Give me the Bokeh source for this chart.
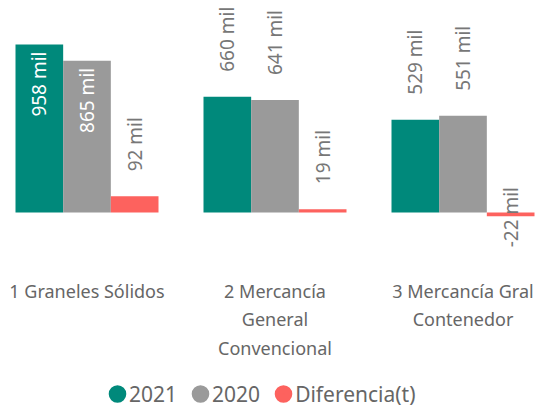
import math
from bokeh.plotting import figure
from bokeh.models import FixedTicker, Legend, LegendItem, ColumnDataSource
from bokeh.core.properties import value
from bokeh.embed import file_html
from bokeh.resources import INLINE

# ---- data ----
categories = ["1 Graneles Sólidos", "2 Mercancía General Convencional", "3 Mercancía Gral Contenedor"]
tick_labels = ["1 Graneles Sólidos", "2 Mercancía\nGeneral\nConvencional", "3 Mercancía Gral\nContenedor"]
series_names = ["2021", "2020", "Diferencia(t)"]
values_2021 = [958, 660, 529]
values_2020 = [865, 641, 551]
values_diff = [92, 19, -22]
colors = ["#00897B", "#9A9A9A", "#FD625E"]

FONT = "Noto Sans"
TEXT_GREY = "#666666"
LABEL_GREY = "#777777"

# ---- layout ----
FRAME_W, FRAME_H = 543, 408
group_px = 188.0
first_center_px = 86.5
baseline_px_from_top = 212.0
axis_px_from_top = 255.0
units_per_px = 958 / 168.0

x0 = -first_center_px / group_px
x1 = x0 + FRAME_W / group_px
y1 = baseline_px_from_top * units_per_px
y0 = -(FRAME_H - baseline_px_from_top) * units_per_px
axis_y = -(axis_px_from_top - baseline_px_from_top) * units_per_px
bw = 143.0 / 3.0 / group_px

p = figure(frame_width=FRAME_W, frame_height=FRAME_H,
           x_range=(x0, x1), y_range=(y0, y1),
           output_backend="svg", toolbar_location=None,
           y_axis_location=None,
           min_border_left=0, min_border_right=0, min_border_top=0, min_border_bottom=0)
p.outline_line_color = None
p.grid.visible = False
p.background_fill_color = "white"
p.border_fill_color = "white"

series = [values_2021, values_2020, values_diff]
idx = list(range(len(categories)))

lx, ly, ltxt, lalign, loff, lcol = [], [], [], [], [], []
legend_items = []
for s, (vals, col, name) in enumerate(zip(series, colors, series_names)):
    xs = [i + (s - 1) * bw for i in idx]
    p.vbar(x=xs, top=vals, bottom=0, width=bw, fill_color=col, line_color=None)
    # legend-only marker renderer (hidden on the plot)
    dummy = p.scatter(x=xs, y=vals, marker="circle", size=18, fill_color=col,
                      line_color=col, line_width=8)
    dummy.visible = False
    legend_items.append(LegendItem(label=name, renderers=[dummy]))
    for xv, v in zip(xs, vals):
        lx.append(xv)
        ly.append(v)
        ltxt.append(f"{v} mil")
        if v >= 800:
            lalign.append("right"); loff.append(7); lcol.append("white")
        elif v < 0:
            lalign.append("left"); loff.append(31); lcol.append(LABEL_GREY)
        else:
            lalign.append("left"); loff.append(-25); lcol.append(LABEL_GREY)

lsrc = ColumnDataSource(dict(x=lx, y=ly, text=ltxt, align=lalign, off=loff, col=lcol))
p.text(x="x", y="y", text="text", source=lsrc, angle=math.pi / 2,
       text_align="align", text_baseline="middle", y_offset="off",
       text_color="col", text_font=value(FONT), text_font_size="19px")

ax = p.xaxis[0]
ax.fixed_location = axis_y
ax.ticker = FixedTicker(ticks=idx)
ax.major_label_overrides = {i: t for i, t in zip(idx, tick_labels)}
ax.axis_line_color = None
ax.major_tick_line_color = None
ax.minor_tick_line_color = None
ax.major_tick_out = 0
ax.major_label_standoff = 23
ax.major_label_text_font = FONT
ax.major_label_text_font_size = "18px"
ax.major_label_text_color = TEXT_GREY
ax.major_label_text_line_height = 1.2

legend = Legend(items=legend_items, location=(105, -8), orientation="horizontal",
                glyph_width=24, glyph_height=45, label_standoff=0, spacing=11,
                padding=0, margin=0, border_line_color=None, background_fill_alpha=0,
                inactive_fill_alpha=0,
                label_text_font=FONT, label_text_font_size="21px",
                label_text_color=TEXT_GREY, label_text_baseline="middle")
p.add_layout(legend)

open("out.html", "w").write(file_html(p, INLINE))
